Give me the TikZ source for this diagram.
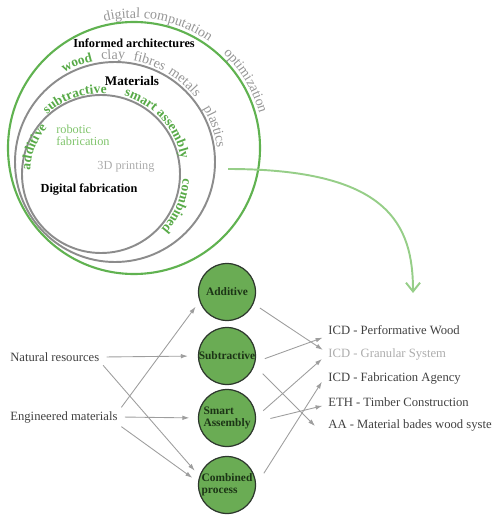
\documentclass[tikz,border=0pt]{standalone}
\usepackage{fontspec}
\setmainfont{Liberation Serif}
\usetikzlibrary{arrows.meta,decorations.text,calc}

\definecolor{ringgreen}{RGB}{96,178,80}
\definecolor{ringgray}{RGB}{140,140,140}
\definecolor{wordgreen}{RGB}{88,170,72}
\definecolor{wordgray}{RGB}{150,150,150}
\definecolor{softgreen}{RGB}{128,196,108}
\definecolor{palegray}{RGB}{172,172,172}
\definecolor{flowgreen}{RGB}{150,206,136}
\definecolor{ballgreen}{RGB}{106,172,84}
\definecolor{balledge}{RGB}{45,55,45}
\definecolor{balltext}{RGB}{28,52,22}
\definecolor{labelgray}{RGB}{64,64,64}
\definecolor{arrowgray}{RGB}{158,158,158}

\newcommand\arcbold{\fontsize{7.7}{8}\selectfont\bfseries}
\newcommand\arcreg{\fontsize{8}{9}\selectfont}

\tikzset{
    ball/.style={circle, draw=balledge, line width=0.7pt, fill=ballgreen, minimum size=1.14cm,
        inner sep=0pt, text=balltext, font=\fontsize{6.5}{7}\selectfont\bfseries, align=left},
    lbl/.style={anchor=west, inner sep=2pt, text=labelgray, font=\fontsize{7.2}{8}\selectfont},
    heading/.style={inner sep=1pt, font=\fontsize{7}{8}\selectfont\bfseries},
    link/.style={draw=arrowgray, line width=0.5pt, -{Latex[length=4pt,width=2.6pt]}},
    ringtext/.style 2 args={decorate, decoration={text along path, text align=center,
        text color=#1, text={#2}}},
}

\begin{document}
\begin{tikzpicture}[x=0.02cm, y=0.02cm]
        \useasboundingbox (0,0) rectangle (492,-517);

        \draw[ringgreen, line width=1.2pt] (134,-148) circle[radius=126];
        \draw[ringgray, line width=1.1pt] (115,-162) circle[radius=100];
        \draw[ringgray, line width=1.1pt] (101,-174) circle[radius=79];

        \path[ringtext={wordgray}{|\arcreg|digital computation}] (134,-148) ++(120:130) arc[start angle=120, end angle=38, radius=130];
        \path[ringtext={wordgray}{|\arcreg|optimization}] (134,-148) ++(60:130) arc[start angle=60, end angle=2, radius=130];

        \path[ringtext={wordgreen}{|\arcbold|wood}] (115,-162) ++(130:103) arc[start angle=130, end angle=92, radius=103];
        \path[ringtext={wordgray}{|\arcreg|clay}] (115,-162) ++(105:103) arc[start angle=105, end angle=77, radius=103];
        \path[ringtext={wordgray}{|\arcreg|fibres}] (115,-162) ++(85:103) arc[start angle=85, end angle=57, radius=103];
        \path[ringtext={wordgray}{|\arcreg|metals}] (115,-162) ++(63:103) arc[start angle=63, end angle=35, radius=103];
        \path[ringtext={wordgray}{|\arcreg|plastics}] (115,-162) ++(40:103) arc[start angle=40, end angle=-1, radius=103];

        \path[ringtext={wordgreen}{|\arcbold|additive}] (101,-174) ++(190:71) arc[start angle=190, end angle=126, radius=71];
        \path[ringtext={wordgreen}{|\arcbold|subtractive}] (101,-174) ++(140:80.5) arc[start angle=140, end angle=78, radius=80.5];
        \path[ringtext={wordgreen}{|\arcbold|smart assembly}] (101,-174) ++(80:81.5) arc[start angle=80, end angle=4, radius=81.5];
        \path[ringtext={wordgreen}{|\arcbold|combined}] (101,-174) ++(5:82) arc[start angle=5, end angle=-51, radius=82];

        \node[heading] (informed) at (134,-43) {Informed architectures};
        \node[heading, font=\fontsize{7.5}{8}\selectfont\bfseries] (materials) at (132,-81) {Materials};
        \node[anchor=west, inner sep=0pt, align=left, text=softgreen, font=\fontsize{7}{6.6}\selectfont] (robotic) at (56,-135) {robotic\\fabrication};
        \node[inner sep=1pt, text=palegray, font=\fontsize{7}{8}\selectfont] (printing) at (126,-167) {3D printing};
        \node[heading] (digital) at (89,-190) {Digital fabrication};

        \coordinate (flowstart) at (228,-169);
        \coordinate (flowend) at (413,-293);
        \draw[flowgreen, line width=1.1pt, -{Straight Barb[length=5pt,width=8pt]}] (flowstart) .. controls (388,-169) and (413,-224) .. (flowend);

        \node[ball] (add) at (227,-292) {Additive};
        \node[ball] (sub) at (227,-356) {Subtractive};
        \node[ball] (smart) at (227,-418) {Smart\\Assembly};
        \node[ball] (comb) at (227,-485) {Combined\\process};

        \node[lbl] (nat) at (6.5,-357) {Natural resources};
        \node[lbl] (eng) at (6.5,-417) {Engineered materials};

        \node[lbl] (pw) at (324.5,-330) {ICD - Performative Wood};
        \node[lbl, text=palegray] (gs) at (324.5,-354) {ICD - Granular System};
        \node[lbl] (fa) at (324.5,-378) {ICD - Fabrication Agency};
        \node[lbl] (eth) at (324.5,-402) {ETH - Timber Construction};
        \node[lbl] (aa) at (324.5,-425) {AA - Material bades wood system};

        \draw[link, shorten <=2pt, shorten >=0.2cm] (nat.east) -- (sub.west);
        \draw[link, shorten >=0.14cm] (nat.south east) -- (comb.162);
        \draw[link, shorten >=0.13cm] (eng.north east) -- (add.199);
        \draw[link, shorten <=2pt, shorten >=0.17cm] (eng.east) -- (smart.west);
        \draw[link, shorten >=0.14cm] (eng.south east) -- (comb.174);

        \draw[link, shorten <=0.15cm, shorten >=0.04cm] (add.-24) -- ($(gs.west)+(0,3)$);
        \draw[link, shorten <=0.2cm, shorten >=0.04cm] (sub.-12) -- ($(pw.west)+(0,-7)$);
        \draw[link, shorten <=0.23cm, shorten >=0.04cm] (sub.-19) -- ($(aa.west)+(-8,-2.5)$);
        \draw[link, shorten <=0.19cm, shorten >=0.04cm] (smart.2) -- ($(gs.west)+(-1,-3.6)$);
        \draw[link, shorten <=0.3cm, shorten >=0.04cm] (smart.-8) -- ($(eth.west)+(0,-3.3)$);
        \draw[link, shorten <=0.29cm, shorten >=0.04cm] (comb.-1) -- ($(fa.west)+(-1.5,-2)$);
    \end{tikzpicture}
\end{document}
